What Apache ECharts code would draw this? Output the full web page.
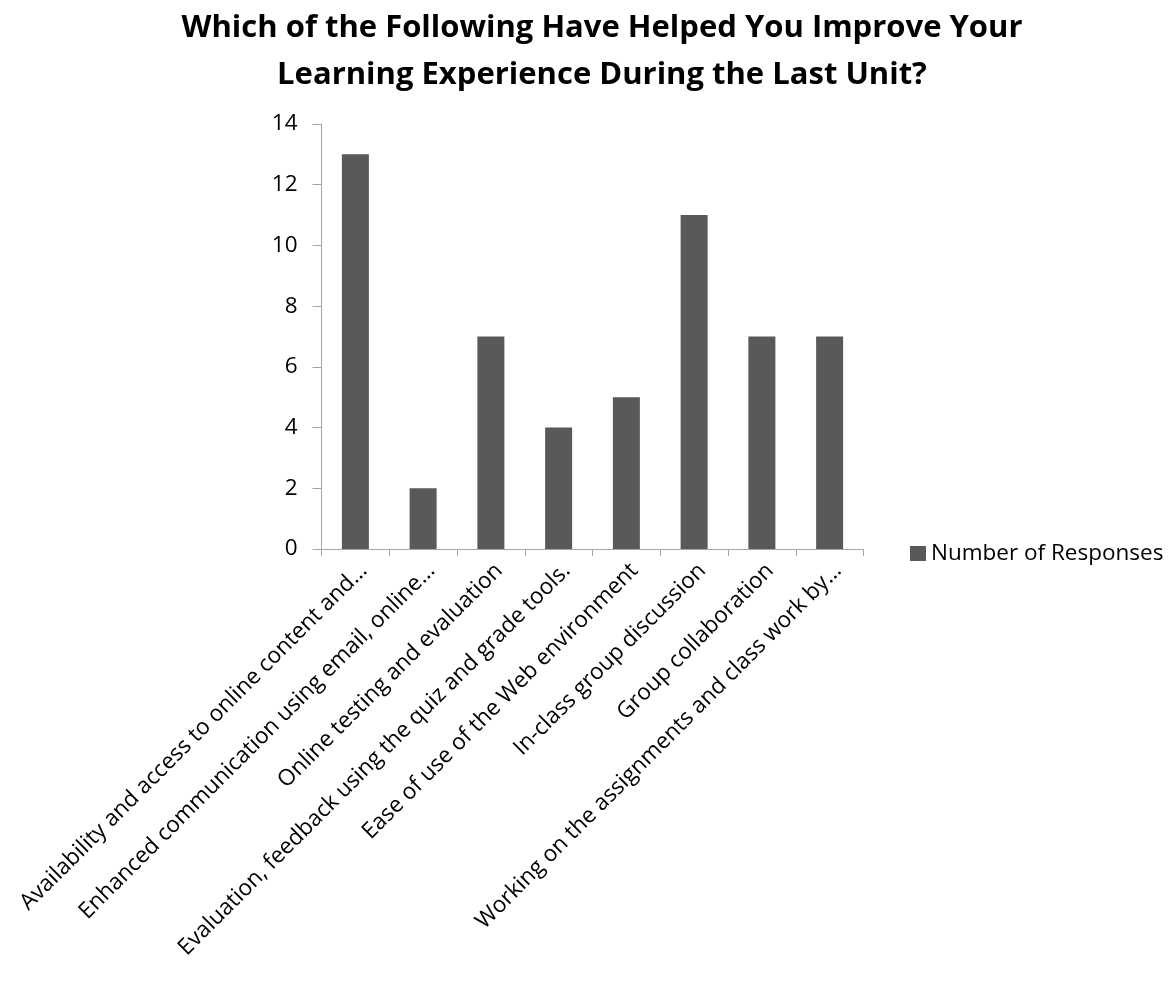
<!DOCTYPE html>
<html>
<head>
<meta charset="utf-8">
<script src="https://cdn.jsdelivr.net/npm/echarts@6/dist/echarts.min.js"></script>
<style>
  html, body { margin: 0; padding: 0; background: #fff; }
  #chart { width: 1168px; height: 982px; }
</style>
</head>
<body>
<div id="chart"></div>
<script>
// categories as shown (truncated in the original)
var categories = [
  'Availability and access to online content and…',
  'Enhanced communication using email, online…',
  'Online testing and evaluation',
  'Evaluation, feedback using the quiz and grade tools.',
  'Ease of use of the Web environment',
  'In-class group discussion',
  'Group collaboration',
  'Working on the assignments and class work by…'
];
var responses = [13, 2, 7, 4, 5, 11, 7, 7];
var seriesName = 'Number of Responses';
var titleText = 'Which of the Following Have Helped You Improve Your\nLearning Experience During the Last Unit?';

var font = 'Open Sans';
var chart = echarts.init(document.getElementById('chart'));

chart.setOption({
  animation: false,
  title: {
    text: titleText,
    left: 597,
    textAlign: 'center',
    top: 0,
    textStyle: {
      fontFamily: font,
      fontWeight: 'bold',
      fontSize: 31,
      lineHeight: 47,
      color: '#000'
    }
  },
  legend: {
    data: [seriesName],
    left: 905,
    top: 537,
    icon: 'rect',
    itemWidth: 16,
    itemHeight: 15,
    itemGap: 6,
    textStyle: { fontFamily: font, fontSize: 22.5, color: '#000' }
  },
  grid: { left: 321.5, right: 304.5, top: 124, bottom: 433 },
  xAxis: {
    type: 'category',
    data: categories,
    axisLine: { lineStyle: { color: '#a6a6a6', width: 1 } },
    axisTick: { show: true, length: 7, alignWithLabel: false, lineStyle: { color: '#a6a6a6' } },
    axisLabel: {
      rotate: 45,
      interval: 0,
      margin: 10,
      verticalAlign: 'top',
      fontFamily: font,
      fontSize: 22.5,
      color: '#000'
    }
  },
  yAxis: {
    type: 'value',
    min: 0,
    max: 14,
    interval: 2,
    splitLine: { show: false },
    axisLine: { show: true, lineStyle: { color: '#a6a6a6', width: 1 } },
    axisTick: { show: true, length: 9, lineStyle: { color: '#a6a6a6' } },
    axisLabel: {
      margin: 24,
      fontFamily: font,
      fontSize: 22.5,
      color: '#000'
    }
  },
  series: [{
    name: seriesName,
    type: 'bar',
    data: responses,
    barWidth: 27,
    itemStyle: { color: '#595959' }
  }]
});
</script>
</body>
</html>
